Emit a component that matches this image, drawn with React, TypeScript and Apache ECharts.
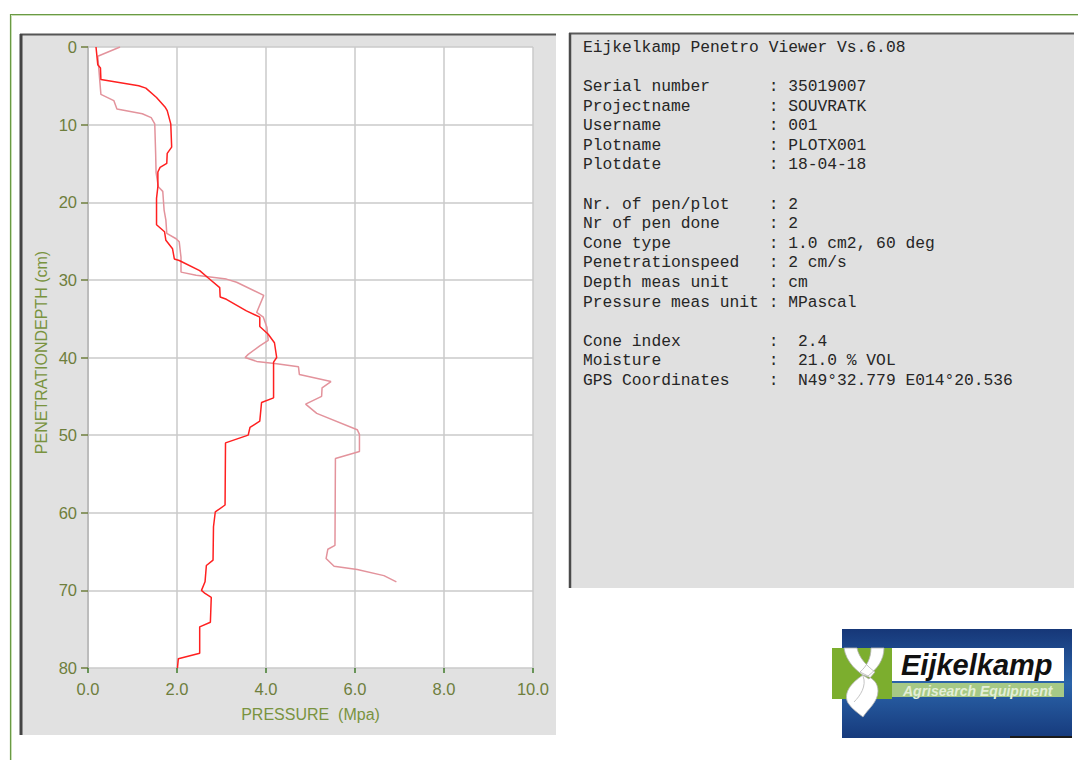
import React, { useEffect, useRef } from "react";
import * as echarts from "echarts";

// ---- data ----
const pen1Depth = [0, 2.3, 2.7, 4.2, 5.0, 5.3, 6.5, 7.8, 8.2, 9.9, 12.9, 13.7, 15.0, 15.5, 16.1, 18.0, 19.5, 22.9, 23.8, 24.9, 26.0, 27.3, 27.5, 28.8, 29.7, 31.0, 32.2, 32.5, 34.0, 34.8, 36.0, 37.0, 38.1, 40.0, 40.6, 45.2, 45.8, 48.2, 49.0, 50.0, 51.0, 59.0, 59.9, 61.8, 66.1, 66.8, 68.9, 70.0, 70.4, 70.9, 74.1, 74.7, 78.1, 78.8, 80.0];
const pen1Pressure = [0.18, 0.22, 0.28, 0.29, 1.14, 1.30, 1.54, 1.74, 1.78, 1.86, 1.88, 1.78, 1.77, 1.62, 1.57, 1.57, 1.54, 1.54, 1.72, 1.75, 1.90, 1.94, 2.05, 2.51, 2.69, 2.96, 2.97, 3.11, 3.56, 3.86, 3.86, 4.05, 4.19, 4.24, 4.17, 4.17, 3.90, 3.86, 3.64, 3.60, 3.09, 3.08, 2.86, 2.82, 2.81, 2.66, 2.63, 2.55, 2.63, 2.77, 2.75, 2.51, 2.51, 2.03, 2.01];

const pen2Depth = [0, 1.2, 6.1, 6.9, 8.0, 8.6, 9.1, 9.9, 13.7, 16.2, 18.0, 18.6, 21.0, 22.3, 24.0, 24.7, 25.1, 27.1, 29.0, 29.4, 29.9, 30.3, 32.0, 34.2, 34.8, 36.1, 37.8, 38.5, 39.6, 40.0, 40.5, 40.8, 41.2, 42.2, 43.1, 43.9, 45.0, 46.0, 47.2, 49.3, 49.9, 52.1, 53.0, 64.2, 64.7, 65.9, 66.9, 67.3, 68.1, 68.9];
const pen2Pressure = [0.72, 0.22, 0.29, 0.58, 0.65, 1.22, 1.42, 1.50, 1.52, 1.53, 1.58, 1.68, 1.71, 1.75, 1.77, 1.98, 2.05, 2.09, 2.09, 2.43, 3.11, 3.34, 3.95, 3.79, 3.94, 4.02, 4.05, 3.86, 3.60, 3.53, 3.79, 4.24, 4.73, 4.75, 5.46, 5.26, 5.25, 4.89, 5.14, 6.05, 6.10, 6.10, 5.56, 5.55, 5.39, 5.35, 5.53, 6.05, 6.65, 6.93];

const xAxisTitle = "PRESSURE  (Mpa)";
const yAxisTitle = "PENETRATIONDEPTH (cm)";

const infoLines = [
  "Eijkelkamp Penetro Viewer Vs.6.08",
  "",
  "Serial number      : 35019007",
  "Projectname        : SOUVRATK",
  "Username           : 001",
  "Plotname           : PLOTX001",
  "Plotdate           : 18-04-18",
  "",
  "Nr. of pen/plot    : 2",
  "Nr of pen done     : 2",
  "Cone type          : 1.0 cm2, 60 deg",
  "Penetrationspeed   : 2 cm/s",
  "Depth meas unit    : cm",
  "Pressure meas unit : MPascal",
  "",
  "Cone index         :  2.4",
  "Moisture           :  21.0 % VOL",
  "GPS Coordinates    :  N49\u00b032.779 E014\u00b020.536",
];

const logoTitle = "Eijkelkamp";
const logoSubtitle = "Agrisearch Equipment";

const augerPath =
  "M4 2 L17 2 C19 12 27 20 35 26 L29 33 C17 26 6 16 4 2 Z " +
  "M31 2 L44 2 C44 14 37 23 28 30 L20 26 C27 20 31 12 31 2 Z " +
  "M23 29 C11 37 3 47 8 57 C12 63 18 67 23 71 C28 63 38 56 38 45 C38 37 33 33 29 31 Z";

const augerLine = "M23 30 C27 40 20 50 14 56";

let registered = false;
function ensureShape() {
  if (registered) return;
  const g = (echarts as any).graphic;
  g.registerShape("auger", g.extendPath(augerPath, {}));
  g.registerShape("augerLine", g.extendPath(augerLine, {}));
  registered = true;
}

export default function App() {
  const ref = useRef<HTMLDivElement>(null);

  useEffect(() => {
    if (!ref.current) return;
    ensureShape();
    const chart = echarts.init(ref.current, null, { renderer: "svg" });

    const pen1 = pen1Depth.map((d, i) => [pen1Pressure[i], d]);
    const pen2 = pen2Depth.map((d, i) => [pen2Pressure[i], d]);

    const axisGreen = "#6e7e3c";
    const nameGreen = "#79933f";

    const option: any = {
      animation: false,
      backgroundColor: "#ffffff",
      grid: { left: 88, top: 47, width: 445, height: 621, show: false },
      xAxis: {
        type: "value",
        min: 0,
        max: 10,
        interval: 2,
        position: "bottom",
        name: xAxisTitle,
        nameLocation: "middle",
        nameGap: 38,
        nameTextStyle: { color: nameGreen, fontSize: 16, fontFamily: "Liberation Sans" },
        axisLine: { show: false, onZero: false },
        axisTick: { show: true, length: 5, lineStyle: { color: "#3f7a2a", width: 1.5 } },
        axisLabel: {
          color: axisGreen,
          fontSize: 16.5,
          fontFamily: "Liberation Sans",
          margin: 12,
          formatter: (v: number) => v.toFixed(1),
        },
        splitLine: { show: true, lineStyle: { color: "#cacaca", width: 1.5 } },
      },
      yAxis: {
        type: "value",
        inverse: true,
        min: 0,
        max: 80,
        interval: 10,
        name: yAxisTitle,
        nameLocation: "middle",
        nameGap: 39,
        nameTextStyle: { color: nameGreen, fontSize: 16, fontFamily: "Liberation Sans", padding: [0, 0, 0, 10] },
        axisLine: { show: true, onZero: false, lineStyle: { color: "#bcbcbc", width: 2 } },
        axisTick: { show: true, length: 7, lineStyle: { color: axisGreen, width: 1.5 } },
        axisLabel: {
          color: axisGreen,
          fontSize: 16.5,
          fontFamily: "Liberation Sans",
          margin: 11,
        },
        splitLine: { show: true, lineStyle: { color: "#cacaca", width: 1.5 } },
      },
      series: [
        {
          name: "Penetration 2",
          type: "line",
          data: pen2,
          symbol: "none",
          lineStyle: { color: "#e3939c", width: 1.5 },
          z: 3,
        },
        {
          name: "Penetration 1",
          type: "line",
          data: pen1,
          symbol: "none",
          lineStyle: { color: "#ff2020", width: 1.5 },
          z: 4,
        },
      ],
      graphic: [
        // outer green frame
        { type: "rect", z: -20, silent: true, shape: { x: 10.5, y: 14.5, width: 1100, height: 800 }, style: { fill: "#ffffff", stroke: "#6a9a44", lineWidth: 1.2 } },
        { type: "rect", z: -19, silent: true, shape: { x: 11.5, y: 15.5, width: 1100, height: 800 }, style: { fill: "none", stroke: "#c9dfb6", lineWidth: 1 } },
        // chart panel
        { type: "rect", z: -18, silent: true, shape: { x: 20, y: 34, width: 536, height: 701 }, style: { fill: "#e1e1e1" } },
        { type: "line", z: -17, silent: true, shape: { x1: 20, y1: 34.5, x2: 556, y2: 34.5 }, style: { stroke: "#555555", lineWidth: 2 } },
        { type: "line", z: -17, silent: true, shape: { x1: 21, y1: 34, x2: 21, y2: 735 }, style: { stroke: "#444444", lineWidth: 3 } },
        { type: "rect", z: -16, silent: true, shape: { x: 88, y: 47, width: 445, height: 621 }, style: { fill: "#ffffff" } },
        // info panel
        { type: "rect", z: -18, silent: true, shape: { x: 569, y: 33, width: 505, height: 555 }, style: { fill: "#e0e0e0" } },
        { type: "line", z: -17, silent: true, shape: { x1: 569, y1: 33.5, x2: 1074, y2: 33.5 }, style: { stroke: "#5a5a5a", lineWidth: 2 } },
        { type: "line", z: -17, silent: true, shape: { x1: 570, y1: 33, x2: 570, y2: 588 }, style: { stroke: "#4a4a4a", lineWidth: 2.5 } },
        {
          type: "text",
          z: 10,
          left: 583,
          top: 37.5,
          style: {
            text: infoLines.join("\n"),
            fill: "#262626",
            fontSize: 16.3,
            lineHeight: 19.6,
            fontFamily: "Liberation Mono",
          },
        },
        // logo
        {
          type: "rect",
          z: 5,
          silent: true,
          shape: { x: 842, y: 629, width: 230, height: 109 },
          style: {
            fill: new (echarts as any).graphic.LinearGradient(0, 0, 0, 1, [
              { offset: 0, color: "#163778" },
              { offset: 0.5, color: "#2b64aa" },
              { offset: 1, color: "#163a7c" },
            ]),
          },
        },
        { type: "line", z: 6, silent: true, shape: { x1: 1010, y1: 737, x2: 1072, y2: 737 }, style: { stroke: "#1a1a1a", lineWidth: 2 } },
        { type: "rect", z: 6, silent: true, shape: { x: 832, y: 648, width: 60, height: 51 }, style: { fill: "#7cae2e" } },
        { type: "rect", z: 6, silent: true, shape: { x: 892, y: 648, width: 172, height: 33 }, style: { fill: "#ffffff" } },
        { type: "rect", z: 6, silent: true, shape: { x: 892, y: 683, width: 172, height: 14 }, style: { fill: "#a6c986" } },
        {
          type: "auger",
          z: 7,
          silent: true,
          x: 840,
          y: 646,
          scaleX: 1,
          scaleY: 1,
          style: { fill: "#ffffff", stroke: "#b4b4b4", lineWidth: 0.8 },
        },
        {
          type: "augerLine",
          z: 7,
          silent: true,
          x: 840,
          y: 646,
          style: { fill: "none", stroke: "#c4c4c4", lineWidth: 1 },
        },
        {
          type: "text",
          z: 8,
          x: 901,
          y: 665,
          style: {
            text: logoTitle,
            fill: "#111111",
            fontSize: 29,
            fontWeight: "bold",
            fontStyle: "italic",
            fontFamily: "Liberation Sans",
            verticalAlign: "middle",
          },
        },
        {
          type: "text",
          z: 8,
          x: 903,
          y: 690.5,
          style: {
            text: logoSubtitle,
            fill: "#e4efd8",
            fontSize: 14,
            fontWeight: "bold",
            fontStyle: "italic",
            fontFamily: "Liberation Sans",
            verticalAlign: "middle",
          },
        },
      ],
    };

    chart.setOption(option);
    return () => chart.dispose();
  }, []);

  return (
    <div
      ref={ref}
      style={{ position: "fixed", left: 0, top: 0, width: 1078, height: 760, background: "#ffffff" }}
    />
  );
}
